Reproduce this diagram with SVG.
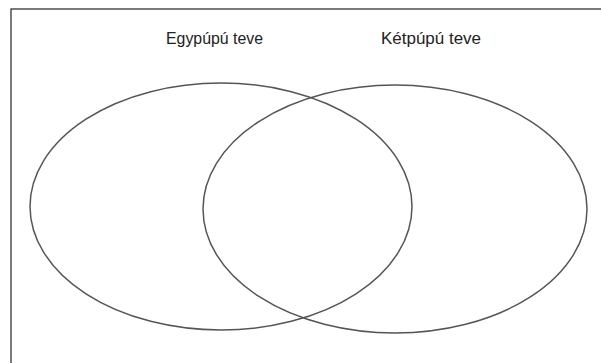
<svg xmlns="http://www.w3.org/2000/svg" width="601" height="363" viewBox="0 0 601 363">
<style>
.frame{fill:none;stroke:#333;stroke-width:1.3}
.set{fill:none;stroke:#555;stroke-width:1.5}
.lbl{font-family:"Liberation Sans",Arial,sans-serif;font-size:16px;fill:#222}
</style>
<rect width="601" height="363" fill="#fff"/>
<rect class="frame" x="11" y="9" width="600" height="360"/>
<g id="egypupu">
<ellipse class="set" cx="221" cy="206.5" rx="191" ry="123.5"/>
<text class="lbl" x="166" y="44" textLength="97" lengthAdjust="spacingAndGlyphs">Egypúpú teve</text>
</g>
<g id="ketpupu">
<ellipse class="set" cx="395" cy="209" rx="192" ry="124"/>
<text class="lbl" x="381" y="44" textLength="100" lengthAdjust="spacingAndGlyphs">Kétpúpú teve</text>
</g>
<g id="connectors"/>
</svg>
